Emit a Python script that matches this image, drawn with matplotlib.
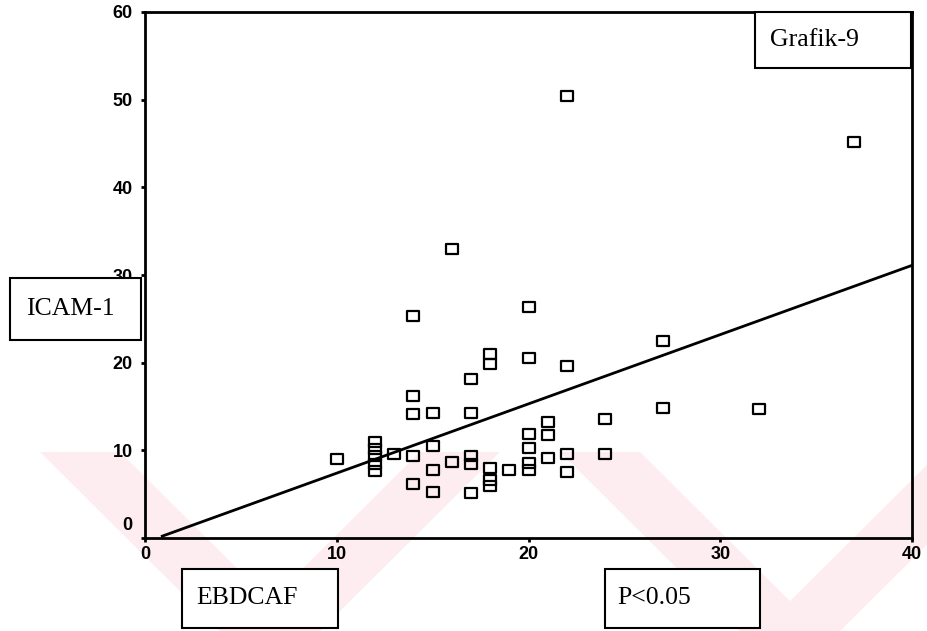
import matplotlib
matplotlib.use("Agg")
import matplotlib.pyplot as plt
import matplotlib.transforms as mtransforms
from matplotlib.patches import Rectangle, Polygon
from matplotlib.path import Path
import numpy as np

# ---- data ----
ebdcaf = [22, 37, 16, 14, 20, 27, 18, 18, 20, 22, 17, 14, 14, 15, 17, 27, 32, 24,
          21, 21, 20, 20, 20, 20, 21, 22, 22, 24, 19, 18, 18, 18, 10, 12, 12, 12,
          12, 12, 13, 15, 14, 15, 16, 17, 17, 14, 15, 17]
icam1 = [50.4, 45.2, 33.0, 25.3, 26.3, 22.5, 21.0, 19.9, 20.5, 19.6, 18.1, 16.2,
         14.1, 14.3, 14.3, 14.8, 14.7, 13.6, 13.2, 11.7, 11.9, 10.3, 8.5, 7.7,
         9.1, 9.6, 7.5, 9.6, 7.8, 8.0, 6.6, 5.9, 9.0, 11.0, 10.2, 9.3, 8.4, 7.6,
         9.6, 10.5, 9.3, 7.8, 8.7, 9.3, 8.4, 6.2, 5.2, 5.1]
fit_intercept = -0.5
fit_slope = 0.79
fit_x_range = [0.9, 40]
x_ticks = [0, 10, 20, 30, 40]
y_ticks = [0, 10, 20, 30, 40, 50, 60]
label_y = "ICAM-1"
label_x = "EBDCAF"
label_title = "Grafik-9"
label_p = "P<0.05"

W, H = 927, 631
fig = plt.figure(figsize=(W / 100, H / 100), dpi=100)
fig.patch.set_facecolor("white")

def fx(px):
    return px / W

def fy(py):
    return 1 - py / H

# watermark (decorative pale pink stripes in the background)
pink = "#fdedf0"
wm = [
    [(40, 452), (120, 452), (300, 631), (220, 631)],
    [(420, 452), (500, 452), (320, 631), (240, 631)],
    [(560, 452), (640, 452), (820, 631), (740, 631)],
    [(940, 452), (1020, 452), (840, 631), (760, 631)],
]
for poly in wm:
    fig.patches.append(Polygon([(fx(a), fy(b)) for a, b in poly], closed=True,
                               transform=fig.transFigure, facecolor=pink,
                               edgecolor="none", zorder=-5))

L, R, T, B = 145, 912, 12, 538
ax = fig.add_axes([fx(L), fy(B), fx(R) - fx(L), fy(T) - fy(B)])
ax.set_zorder(2)
ax.patch.set_alpha(0)
ax.set_xlim(0, 40)
ax.set_ylim(0, 60)
for s in ax.spines.values():
    s.set_linewidth(2.0)
    s.set_color("black")

rect_marker = Path([(-1.15, -1), (1.15, -1), (1.15, 1), (-1.15, 1), (-1.15, -1)],
                   [Path.MOVETO, Path.LINETO, Path.LINETO, Path.LINETO, Path.CLOSEPOLY])
ax.plot(ebdcaf, icam1, linestyle="none", marker=rect_marker, markersize=8,
        markerfacecolor="none", markeredgecolor="black", markeredgewidth=1.6,
        clip_on=False, zorder=3)

xs = np.array(fit_x_range)
ax.plot(xs, fit_intercept + fit_slope * xs, color="black", linewidth=2.0, zorder=2)

ax.set_xticks(x_ticks)
ax.set_yticks(y_ticks)
ax.tick_params(axis="both", direction="out", length=3, width=2, labelsize=13)
ax.tick_params(axis="y", pad=6)
ax.tick_params(axis="x", pad=3)
for lab in ax.get_xticklabels() + ax.get_yticklabels():
    lab.set_fontfamily("Liberation Sans")
    lab.set_fontweight("bold")
# SPSS-style raised "0" label on the y axis
ylabs = ax.get_yticklabels()
off = mtransforms.ScaledTranslation(0, 14 / 100, fig.dpi_scale_trans)
ylabs[0].set_transform(ylabs[0].get_transform() + off)

def textbox(x0, y0, x1, y1, text, tx, size=18.5):
    fig.patches.append(Rectangle((fx(x0), fy(y1)), fx(x1) - fx(x0), fy(y0) - fy(y1),
                                 transform=fig.transFigure, facecolor="white",
                                 edgecolor="black", linewidth=1.5, zorder=5))
    fig.text(fx(tx), fy((y0 + y1) / 2), text, ha="left", va="center",
             fontsize=size, fontfamily="Liberation Serif", zorder=6)

textbox(755, 12, 911, 68, label_title, 770)
textbox(10, 278, 141, 340, label_y, 26)
textbox(182, 569, 338, 628, label_x, 196)
textbox(605, 569, 760, 628, label_p, 617)

fig.savefig("out.png", dpi=100)
